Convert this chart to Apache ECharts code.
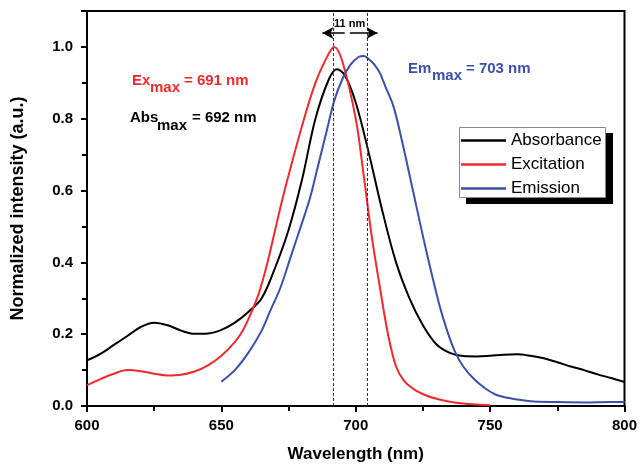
<!DOCTYPE html>
<html>
<head>
<meta charset="utf-8">
<script src="https://cdn.jsdelivr.net/npm/echarts@6/dist/echarts.min.js"></script>
<style>
    html, body { margin: 0; padding: 0; background: #fff; }
    #main { width: 640px; height: 468px; }
</style>
</head>
<body>
<div id="main"></div>
<script>
    // absorbance curve
    var absX = [600, 605, 610, 615, 620, 625, 630, 635, 640, 645, 650, 655, 660, 665, 670, 675, 680, 685, 690, 693, 696, 700, 705, 710, 715, 720, 725, 730, 735, 740, 745, 750, 755, 760, 765, 770, 775, 780, 785, 790, 795, 800];
    var absY = [0.127, 0.145, 0.17, 0.195, 0.22, 0.232, 0.225, 0.21, 0.201, 0.202, 0.212, 0.232, 0.262, 0.30, 0.385, 0.49, 0.63, 0.80, 0.91, 0.938, 0.92, 0.845, 0.70, 0.54, 0.40, 0.30, 0.225, 0.172, 0.148, 0.139, 0.138, 0.14, 0.143, 0.144, 0.14, 0.133, 0.122, 0.11, 0.10, 0.088, 0.078, 0.067];

    // excitation curve
    var exX = [600, 605, 610, 615, 620, 625, 630, 635, 640, 645, 650, 655, 658, 661, 664, 667, 670, 673, 676, 680, 685, 690, 692, 695, 700, 703, 706, 709, 712, 715, 718, 722, 726, 730, 735, 740, 745, 750];
    var exY = [0.058, 0.075, 0.09, 0.10, 0.097, 0.09, 0.085, 0.087, 0.096, 0.113, 0.14, 0.178, 0.21, 0.258, 0.315, 0.395, 0.49, 0.585, 0.67, 0.78, 0.90, 0.982, 1.0, 0.96, 0.80, 0.64, 0.47, 0.33, 0.20, 0.11, 0.07, 0.045, 0.03, 0.02, 0.012, 0.007, 0.004, 0.002];

    // emission curve
    var emX = [650, 655, 660, 665, 668, 672, 676, 680, 683, 686, 689, 692, 695, 698, 701, 703, 705, 707, 709, 711, 714, 717, 721, 726, 731, 734, 737, 740, 744, 748, 752, 757, 765, 775, 785, 795, 800];
    var emY = [0.068, 0.10, 0.148, 0.21, 0.262, 0.33, 0.42, 0.51, 0.58, 0.67, 0.76, 0.85, 0.91, 0.95, 0.972, 0.975, 0.965, 0.95, 0.927, 0.89, 0.835, 0.745, 0.61, 0.44, 0.285, 0.21, 0.15, 0.11, 0.075, 0.05, 0.032, 0.022, 0.013, 0.011, 0.01, 0.011, 0.011];

    var seriesNames = ['Absorbance', 'Excitation', 'Emission'];
    var seriesColors = ['#000000', '#ee2a2e', '#3b50a8'];

    // peak markers (nm)
    var exPeak = 691.5;
    var emPeak = 704.2;

    function pairs(xs, ys) {
        var out = [];
        for (var i = 0; i < xs.length; i++) {
            out.push([xs[i], ys[i]]);
        }
        return out;
    }

    var font = '"Liberation Sans", Arial, Helvetica, sans-serif';
    var chart = echarts.init(document.getElementById('main'));

    function txt(s, x, y, color, size) {
        return {
            type: 'text',
            left: x,
            top: y - size / 2,
            style: {
                text: s,
                fill: color,
                font: 'bold ' + size + 'px ' + font
            }
        };
    }

    var option = {
        animation: false,
        backgroundColor: '#fff',
        grid: {
            left: 87, right: 15, top: 11, bottom: 60,
            show: true,
            borderColor: '#000',
            borderWidth: 2
        },
        legend: {
            orient: 'vertical',
            left: 459,
            top: 129,
            data: seriesNames.map(function (n) { return { name: n, icon: 'rect' }; }),
            itemWidth: 45,
            itemHeight: 2.5,
            itemGap: 7,
            padding: [3, 4, 3, 2],
            textStyle: { color: '#000', fontSize: 17, fontFamily: font }
        },
        xAxis: {
            type: 'value',
            min: 600, max: 800, interval: 50,
            name: 'Wavelength (nm)',
            nameLocation: 'middle',
            nameGap: 40,
            nameTextStyle: { color: '#000', fontSize: 17, fontWeight: 'bold', fontFamily: font },
            axisLine: { lineStyle: { color: '#000', width: 2 } },
            axisTick: { inside: false, length: 6, lineStyle: { color: '#000', width: 2 } },
            minorTick: { show: true, splitNumber: 2, length: 5, lineStyle: { color: '#000', width: 2 } },
            axisLabel: { color: '#000', fontSize: 15, fontWeight: 'bold', fontFamily: font, margin: 12 },
            splitLine: { show: false }
        },
        yAxis: {
            type: 'value',
            min: 0, max: 1.1, interval: 0.2,
            name: 'Normalized intensity (a.u.)',
            nameLocation: 'middle',
            nameGap: 60,
            nameTextStyle: { color: '#000', fontSize: 18, fontWeight: 'bold', fontFamily: font },
            axisLine: { lineStyle: { color: '#000', width: 2 } },
            axisTick: { inside: false, length: 6, lineStyle: { color: '#000', width: 2 } },
            minorTick: { show: true, splitNumber: 2, length: 5, lineStyle: { color: '#000', width: 2 } },
            axisLabel: {
                color: '#000', fontSize: 15, fontWeight: 'bold', fontFamily: font, margin: 14,
                showMaxLabel: false,
                formatter: function (v) { return v > 1.05 ? '' : v.toFixed(1); }
            },
            splitLine: { show: false }
        },
        series: [
            {
                name: seriesNames[0],
                type: 'line',
                color: seriesColors[0],
                smooth: 0.35,
                showSymbol: false,
                lineStyle: { width: 2 },
                data: pairs(absX, absY),
                markLine: {
                    silent: true,
                    symbol: 'none',
                    label: { show: false },
                    lineStyle: { color: '#333', width: 1, type: [3, 2] },
                    data: [
                        [{ coord: [exPeak, 0] }, { coord: [exPeak, 1.1] }],
                        [{ coord: [emPeak, 0] }, { coord: [emPeak, 1.1] }],
                        [
                            { coord: [695.9, 1.039], symbol: 'none', lineStyle: { color: '#000', width: 1.5, type: 'solid' } },
                            { coord: [687.6, 1.039], symbol: 'arrow', symbolSize: [9, 11], lineStyle: { color: '#000', width: 1.5, type: 'solid' } }
                        ],
                        [
                            { coord: [697.8, 1.039], symbol: 'none', lineStyle: { color: '#000', width: 1.5, type: 'solid' } },
                            { coord: [708.1, 1.039], symbol: 'arrow', symbolSize: [9, 11], lineStyle: { color: '#000', width: 1.5, type: 'solid' } }
                        ]
                    ]
                }
            },
            {
                name: seriesNames[1],
                type: 'line',
                color: seriesColors[1],
                smooth: 0.35,
                showSymbol: false,
                lineStyle: { width: 2 },
                data: pairs(exX, exY)
            },
            {
                name: seriesNames[2],
                type: 'line',
                color: seriesColors[2],
                smooth: 0.35,
                showSymbol: false,
                lineStyle: { width: 2 },
                data: pairs(emX, emY)
            }
        ],
        graphic: [
            // legend frame with solid drop shadow
            { type: 'rect', z: 3, shape: { x: 466, y: 133, width: 147, height: 71 }, style: { fill: '#000' } },
            { type: 'rect', z: 3, shape: { x: 459.5, y: 127.5, width: 146, height: 70 }, style: { fill: '#fff', stroke: '#888', lineWidth: 1 } },
            // peak annotations
            txt('11 nm', 334, 23.5, '#000', 11),
            txt('Ex', 132, 81, seriesColors[1], 15),
            txt('max', 150, 88, seriesColors[1], 15),
            txt('= 691 nm', 184, 81, seriesColors[1], 15),
            txt('Abs', 130, 118, '#000', 15),
            txt('max', 157, 125.5, '#000', 15),
            txt('= 692 nm', 192, 118, '#000', 15),
            txt('Em', 408, 68.5, seriesColors[2], 15),
            txt('max', 432, 76, seriesColors[2], 15),
            txt('= 703 nm', 466, 68.5, seriesColors[2], 15)
        ]
    };

    chart.setOption(option);
</script>
</body>
</html>
